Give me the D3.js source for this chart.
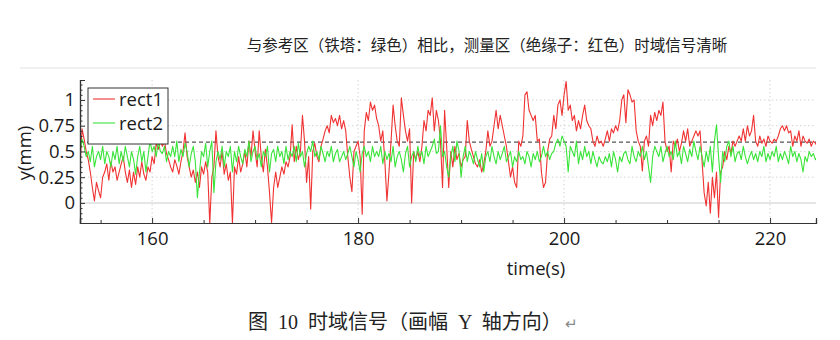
<!DOCTYPE html>
<html><head><meta charset="utf-8">
<script src="https://cdn.jsdelivr.net/npm/d3@7"></script>
<style>
html,body{margin:0;padding:0;background:#fff;}
svg{display:block;}
</style></head>
<body><svg id="chart" width="840" height="340"></svg>
<script>
const titleText = "与参考区（铁塔：绿色）相比，测量区（绝缘子：红色）时域信号清晰";
const captionText = "图  10  时域信号（画幅  Y  轴方向）";
const captionMark = "↵";
const xLabel = "time(s)";
const yLabel = "y(mm)";
const seriesNames = ["rect1", "rect2"];
const seriesColors = ["#f03232", "#3ae43a"];
const t0 = 153.0, dt = 0.2;
const xTicks = [160, 180, 200, 220];
const xMinorTicks = [155, 165, 170, 175, 185, 190, 195, 205, 210, 215];
const yTicks = [0, 0.25, 0.5, 0.75, 1];
const yTickLabels = ["0", "0.25", "0.5", "0.75", "1"];
const refLevel = 0.59;
const rect1 = [
0.35,0.72,0.62,0.5,0.42, 0.3,0.15,0.02,0.2,0.12, 0.05,0.25,0.3,0.38,0.22, 0.4,0.3,0.35,0.22,0.3,
0.38,0.45,0.3,0.2,0.32, 0.15,0.3,0.18,0.35,0.25, 0.4,0.28,0.22,0.35,0.3, 0.45,0.38,0.58,0.52,0.6,
0.55,0.6,0.48,0.42,0.35, 0.3,0.42,0.36,0.28,0.4, 0.5,0.68,0.45,0.35,0.25, 0.32,0.2,0.3,0.15,0.35,
0.28,0.4,0.3,-0.2,0.25, 0.35,0.7,0.45,0.35,0.5, 0.28,0.38,0.22,0.3,-0.2, 0.35,0.28,0.45,0.3,0.38,
0.5,0.35,0.6,0.45,0.7, 0.5,0.35,0.7,0.45,0.3, 0.52,0.35,0.1,-0.19,0.15, 0.3,0.15,0.25,0.35,0.28,
0.4,0.35,0.45,0.76,0.4, 0.55,0.42,0.5,0.85,0.6, 0.2,0.45,-0.06,0.5,0.58, 0.45,0.4,0.55,0.62,0.7,
0.75,0.68,0.85,0.78,0.82, 0.75,0.85,0.72,0.8,0.7, 0.45,0.25,0.11,0.5,0.55, 0.6,0.45,-0.11,0.7,0.88,
0.8,0.98,0.9,0.95,0.82, 0.75,0.6,0.7,0.4,0.02, 0.3,0.6,0.95,0.75,0.6, 0.55,1.02,0.85,0.7,0.6,
0.72,0.0,0.5,0.42,0.5, 0.4,0.55,0.8,0.7,0.9, 0.85,1.02,0.7,0.9,0.8, 0.6,0.15,0.9,0.55,0.15,
0.5,0.35,0.55,0.42,0.48, 0.35,0.42,0.45,0.8,0.6, 0.52,0.45,0.38,0.35,0.42, 0.3,0.38,0.5,0.7,0.55,
0.6,0.75,0.9,0.72,0.85, 0.75,0.65,0.55,0.4,0.25, 0.35,0.2,0.15,0.6,0.55, 0.65,1.05,1.08,0.9,0.85,
0.8,0.85,0.6,0.62,0.3, 0.15,0.2,0.5,0.62,0.65, 0.85,0.72,0.95,1.0,0.85, 1.05,1.18,0.9,0.95,0.8,
0.85,0.7,0.8,0.72,0.85, 0.95,0.8,0.75,0.72,0.6, 0.55,0.65,0.58,0.6,0.55, 0.62,0.7,0.6,0.72,0.68,
0.75,0.7,0.8,1.0,1.05, 0.78,1.1,1.05,0.98,1.0, 0.7,0.6,0.55,0.31,0.6, 0.65,0.55,0.85,0.75,0.88,
0.8,0.9,0.85,0.98,0.6, 0.5,0.55,0.3,0.6,0.55, 0.62,0.5,0.58,0.7,0.6, 0.72,0.55,0.6,0.65,0.7,
0.65,0.7,0.4,0.1,-0.03, 0.2,-0.1,0.25,0.05,0.3, -0.14,0.3,0.35,0.5,0.42, 0.55,0.48,0.6,0.55,0.6,
0.65,0.6,0.72,0.6,0.75, 0.65,0.7,0.85,0.6,0.55, 0.65,0.58,0.62,0.55,0.65, 0.6,0.58,0.62,0.6,0.65,
0.72,0.75,0.7,0.75,0.68, 0.7,0.55,0.65,0.6,0.7, 0.55,0.65,0.6,0.58,0.62, 0.55,0.6,0.58,0.55
];
const rect2 = [
0.5,0.62,0.55,0.45,0.5, 0.4,0.55,0.35,0.45,0.5, 0.42,0.55,0.38,0.5,0.45, 0.35,0.5,0.42,0.55,0.38,
0.5,0.4,0.55,0.45,0.35, 0.5,0.42,0.28,0.45,0.55, 0.4,0.5,0.3,0.45,0.6, 0.5,0.55,0.45,0.6,0.5,
0.48,0.55,0.4,0.5,0.45, 0.55,0.45,0.6,0.4,0.52, 0.45,0.58,0.5,0.35,0.48, 0.55,0.4,0.05,0.3,0.5,
0.45,0.58,0.35,0.5,0.6, 0.1,0.4,0.5,0.42,0.55, 0.35,0.5,0.45,0.55,0.3, 0.5,0.4,0.55,0.45,0.38,
0.52,0.45,0.6,0.4,0.5, 0.55,0.42,0.48,0.35,0.5, 0.45,0.55,0.3,0.48,0.52, 0.4,0.55,0.45,0.5,0.38,
0.55,0.42,0.5,0.45,0.55, 0.4,0.58,0.45,0.5,0.35, 0.48,0.55,0.5,0.6,0.45, 0.5,0.42,0.55,0.48,0.4,
0.5,0.45,0.55,0.4,0.48, 0.52,0.4,0.45,0.5,0.42, 0.48,0.55,0.45,0.35,0.5, 0.42,0.3,0.48,0.55,0.45,
0.5,0.4,0.55,0.45,0.5, 0.45,0.55,0.38,0.5,0.42, 0.48,0.4,0.55,0.35,0.45, 0.5,0.42,0.3,0.48,0.55,
0.35,0.45,0.5,0.4,0.55, 0.45,0.5,0.38,0.55,0.45, 0.5,0.55,0.62,0.48,0.5, 0.75,0.45,0.5,0.35,0.25,
0.45,0.55,0.4,0.6,0.5, 0.25,0.45,0.55,0.4,0.5, 0.45,0.38,0.5,0.42,0.35, 0.48,0.3,0.45,0.5,0.4,
0.55,0.45,0.38,0.5,0.42, 0.48,0.55,0.4,0.45,0.5, 0.35,0.45,0.4,0.5,0.42, 0.45,0.38,0.5,0.45,0.35,
0.48,0.42,0.5,0.4,0.45, 0.55,0.45,0.5,0.42,0.48, 0.5,0.58,0.62,0.55,0.65, 0.6,0.55,0.3,0.55,0.5,
0.45,0.6,0.38,0.5,0.42, 0.55,0.45,0.5,0.38,0.5, 0.42,0.35,0.45,0.4,0.38, 0.45,0.4,0.48,0.35,0.5,
0.42,0.3,0.45,0.4,0.48, 0.5,0.42,0.38,0.55,0.45, 0.4,0.5,0.45,0.55,0.42, 0.5,0.35,0.2,0.45,0.55,
0.5,0.45,0.55,0.4,0.48, 0.55,0.45,0.5,0.42,0.6, 0.45,0.5,0.38,0.55,0.48, 0.4,0.52,0.45,0.6,0.5,
0.42,0.55,0.45,0.35,0.5, 0.4,0.55,0.3,0.6,0.76, 0.45,0.2,0.5,0.4,0.55, 0.6,0.45,0.55,0.4,0.48,
0.5,0.42,0.55,0.45,0.38, 0.45,0.5,0.42,0.48,0.4, 0.5,0.45,0.55,0.4,0.48, 0.42,0.5,0.45,0.55,0.4,
0.48,0.42,0.5,0.45,0.38, 0.55,0.45,0.5,0.4,0.48, 0.42,0.3,0.45,0.4,0.5, 0.45,0.48,0.42,0.45
];

const svg = d3.select("#chart");
const W = 840, H = 340;
const margin = {left: 80, right: 24, top: 80, bottom: 117};
const x = d3.scaleLinear().domain([153.0, 224.46]).range([margin.left, W - margin.right]);
const y = d3.scaleLinear().domain([-0.195, 1.194]).range([H - margin.bottom, margin.top]);
const latin = "'Open Sans','Noto Sans',sans-serif";
const cjk = "'Noto Sans CJK SC','Noto Sans',sans-serif";
const fs = 18.5;

// top separator band
svg.append("rect").attr("x", 20).attr("y", 67).attr("width", x.range()[1] - 20).attr("height", 2).attr("fill", "#f0f0f0");

// title
svg.append("text").attr("x", 487).attr("y", 51).attr("text-anchor", "middle")
  .attr("font-family", cjk).attr("font-size", 15.5).attr("fill", "#222").text(titleText);

// gridlines
const grid = svg.append("g");
grid.selectAll(".hg").data(yTicks).join("line")
  .attr("x1", x.range()[0]).attr("x2", x.range()[1])
  .attr("y1", d => y(d)).attr("y2", d => y(d))
  .attr("stroke", d => d === 0 ? "#dddddd" : "#d4d4d4")
  .attr("stroke-width", d => d === 0 ? 1.5 : 1)
  .attr("stroke-dasharray", d => d === 0 ? null : "1.5,2.5");
grid.selectAll(".vg").data(xTicks).join("line")
  .attr("x1", d => x(d)).attr("x2", d => x(d))
  .attr("y1", y.range()[1]).attr("y2", y.range()[0])
  .attr("stroke", "#d4d4d4").attr("stroke-dasharray", "1.5,2.5");

// clip
svg.append("clipPath").attr("id", "clip").append("rect")
  .attr("x", x.range()[0]).attr("y", y.range()[1])
  .attr("width", x.range()[1] - x.range()[0]).attr("height", y.range()[0] - y.range()[1]);

// reference dashed line
svg.append("line").attr("x1", x.range()[0]).attr("x2", x.range()[1])
  .attr("y1", y(refLevel)).attr("y2", y(refLevel))
  .attr("stroke", "#555").attr("stroke-width", 1.2).attr("stroke-dasharray", "4,3");

// series
const line = d3.line().x((d, i) => x(t0 + i * dt)).y(d => y(d));
const plot = svg.append("g").attr("clip-path", "url(#clip)");
[rect1, rect2].forEach((s, k) => {
  plot.append("path").datum(s).attr("d", line).attr("fill", "none")
    .attr("stroke", seriesColors[k]).attr("stroke-width", 1.1).attr("stroke-linejoin", "round");
});

// axes
const axisColor = "#333";
const xAxis = svg.append("g").attr("transform", `translate(0,${y.range()[0]})`)
  .call(d3.axisBottom(x).tickValues(xTicks).tickFormat(d3.format("d")).tickSize(-5).tickPadding(9));
const xMinor = svg.append("g").attr("transform", `translate(0,${y.range()[0]})`)
  .call(d3.axisBottom(x).tickValues(xMinorTicks).tickFormat("").tickSize(-3));
const yAxis = svg.append("g").attr("transform", `translate(${x.range()[0]},0)`)
  .call(d3.axisLeft(y).tickValues(yTicks).tickFormat((d, i) => yTickLabels[i]).tickSize(-5).tickPadding(5));
const yMinorVals = d3.range(-3, 24).map(i => i * 0.05).filter(v => !yTicks.some(t => Math.abs(t - v) < 1e-6));
const yMinor = svg.append("g").attr("transform", `translate(${x.range()[0]},0)`)
  .call(d3.axisLeft(y).tickValues(yMinorVals).tickFormat("").tickSize(-2.5));
[xAxis, xMinor, yAxis, yMinor].forEach(g => {
  g.selectAll("path.domain").attr("stroke", axisColor).attr("stroke-width", 1.2);
  g.selectAll(".tick line").attr("stroke", axisColor);
  g.selectAll("text").attr("font-family", latin).attr("font-size", fs).attr("fill", "#1a1a1a");
});

// axis labels
svg.append("text").attr("x", 536).attr("y", 275).attr("text-anchor", "middle")
  .attr("font-family", latin).attr("font-size", fs).attr("fill", "#1a1a1a").text(xLabel);
svg.append("text").attr("transform", `translate(31,153) rotate(-90)`).attr("text-anchor", "middle")
  .attr("font-family", latin).attr("font-size", fs).attr("fill", "#1a1a1a").text(yLabel);

// legend
const lg = svg.append("g").attr("transform", "translate(88,88)");
lg.append("rect").attr("width", 80).attr("height", 56).attr("fill", "#fff")
  .attr("stroke", "#333").attr("stroke-width", 1);
seriesNames.forEach((n, k) => {
  const yy = 11 + k * 24;
  lg.append("line").attr("x1", 5).attr("x2", 27).attr("y1", yy).attr("y2", yy)
    .attr("stroke", seriesColors[k]).attr("stroke-width", 1.1);
  lg.append("text").attr("x", 31).attr("y", yy + 6.5).attr("font-family", latin)
    .attr("font-size", fs).attr("fill", "#1a1a1a").text(n);
});

// caption
const cap = svg.append("text").attr("x", 248).attr("y", 329)
  .attr("font-family", "'Liberation Serif','Noto Sans CJK SC',serif").attr("font-size", 20)
  .attr("fill", "#222").style("white-space", "pre");
cap.append("tspan").text(captionText);
cap.append("tspan").attr("fill", "#888").attr("font-size", 15).attr("dx", 3).text(captionMark);
</script>
</body></html>
